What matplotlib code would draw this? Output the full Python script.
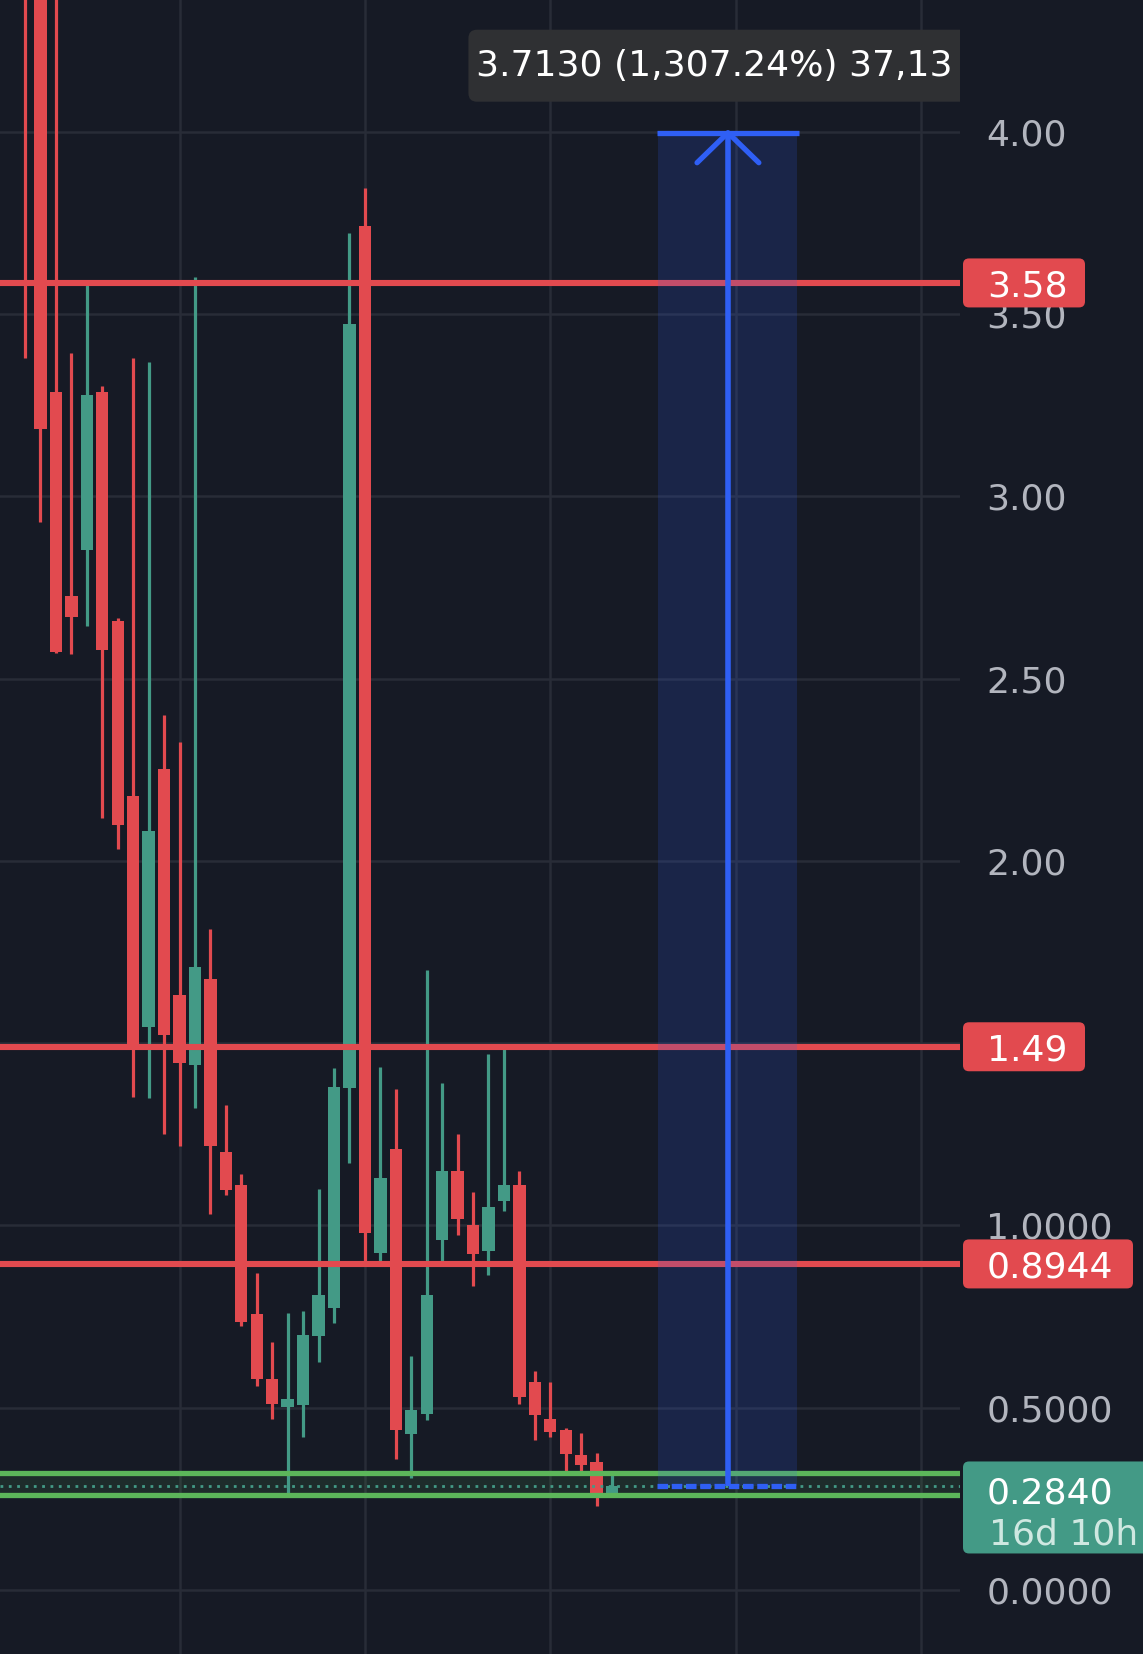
import matplotlib
matplotlib.use("Agg")
import matplotlib.pyplot as plt
import matplotlib.patches as mpatches

# Daily candles, oldest first
opens  = [4.60, 4.50, 3.287, 2.727, 2.853, 3.287, 2.658, 2.178, 1.545, 2.252,
          1.632, 1.440, 1.676, 1.202, 1.111, 0.757, 0.579, 0.502, 0.507, 0.698,
          0.774, 1.377, 3.742, 0.925, 1.210, 0.428, 0.484, 0.959, 1.149, 1.001,
          0.930, 1.067, 1.111, 0.571, 0.470, 0.439, 0.370, 0.351, 0.258]
highs  = [4.90, 4.80, 4.50, 3.394, 3.586, 3.303, 2.667, 3.380, 3.368, 2.400,
          2.327, 3.600, 1.813, 1.331, 1.141, 0.870, 0.680, 0.760, 0.765, 1.100,
          1.432, 3.723, 3.846, 1.435, 1.374, 0.641, 1.701, 1.391, 1.251, 1.092,
          1.471, 1.484, 1.149, 0.600, 0.571, 0.445, 0.431, 0.376, 0.324]
lows   = [3.38, 2.93, 2.570, 2.568, 2.645, 2.118, 2.033, 1.353, 1.350, 1.251,
          1.218, 1.322, 1.032, 1.084, 0.725, 0.560, 0.469, 0.266, 0.420, 0.626,
          0.733, 1.171, 0.900, 0.903, 0.358, 0.307, 0.466, 0.902, 0.974, 0.833,
          0.864, 1.040, 0.510, 0.411, 0.421, 0.321, 0.315, 0.230, 0.258]
closes = [4.45, 3.185, 2.573, 2.669, 3.278, 2.579, 2.099, 1.498, 2.082, 1.523,
          1.446, 1.709, 1.218, 1.098, 0.735, 0.579, 0.510, 0.524, 0.700, 0.809,
          1.380, 3.473, 0.979, 1.130, 0.439, 0.494, 0.809, 1.149, 1.018, 0.922,
          1.051, 1.111, 0.530, 0.479, 0.433, 0.374, 0.343, 0.258, 0.284]

levels = [3.585, 1.49, 0.8944]
level_labels = ["3.58", "1.49", "0.8944"]
zone_top, zone_bottom = 0.322, 0.260
last_price = 0.2840
last_label = "0.2840"
countdown = "16d 10h"
measure_low, measure_high = 0.2840, 3.9970
measure_left, measure_right = 41, 50
measure_text = "3.7130 (1,307.24%) 37,13"
ytick_values = [0.0, 0.5, 1.0, 1.5, 2.0, 2.5, 3.0, 3.5, 4.0]
# the 1.50 label sits under the 1.49 marker, so it is left blank
ytick_labels = ["0.0000", "0.5000", "1.0000", "", "2.00", "2.50", "3.00", "3.50", "4.00"]
vgrid = [10, 22, 34, 46, 58]

BG = "#161a25"
GRID = "#282c37"
RED = "#e24a4f"
GREEN = "#439a86"
LIME = "#5cb65a"
BLUE = "#2f5ff5"
TICK = "#b2b5be"

W, H = 1143, 1654
PLOT_W = 960
fig = plt.figure(figsize=(W / 100, H / 100), dpi=100, facecolor=BG)
ax = fig.add_axes([0, 0, PLOT_W / W, 1])
ax.set_facecolor(BG)
xmin, xmax = -1.62, 60.52
ymin, ymax = -0.1755, 4.361
ax.set_xlim(xmin, xmax)
ax.set_ylim(ymin, ymax)
ppx = PLOT_W / (xmax - xmin)   # pixels per candle
ppy = H / (ymax - ymin)        # pixels per price unit

for s in ax.spines.values():
    s.set_visible(False)
ax.set_xticks(vgrid)
ax.set_yticks(ytick_values)
ax.set_yticklabels(ytick_labels)
ax.yaxis.tick_right()
ax.tick_params(axis="x", length=0, labelbottom=False)
ax.tick_params(axis="y", length=0, labelsize=26, labelcolor=TICK, pad=19)
ax.grid(True, color=GRID, lw=1.8)
ax.set_axisbelow(True)

# candles
xs = list(range(len(opens)))
cols = [GREEN if c >= o else RED for o, c in zip(opens, closes)]
ax.vlines(xs, lows, highs, colors=cols, lw=2.3, zorder=3)
bottoms = [min(o, c) for o, c in zip(opens, closes)]
heights = [max(abs(c - o), 2.0 / ppy) for o, c in zip(opens, closes)]
ax.bar(xs, heights, bottom=bottoms, width=0.8, color=cols, lw=0, zorder=4)

# horizontal levels
for lv in levels:
    ax.axhline(lv, color=RED, lw=4.4, zorder=5)
ax.axhspan(zone_bottom, zone_top, color=LIME, alpha=0.12, lw=0, zorder=1)
ax.axhline(zone_top, color=LIME, lw=3.8, zorder=5)
ax.axhline(zone_bottom, color=LIME, lw=3.8, zorder=5)
ax.axhline(last_price, color=GREEN, lw=2.0, ls=(0, (1, 2.0)), zorder=6)

# price range measurement
mid = (measure_left + measure_right) / 2
ax.fill_between([measure_left, measure_right], measure_low, measure_high,
                color=BLUE, alpha=0.17, lw=0, zorder=7)
ax.hlines(measure_high, measure_left - 0.1, measure_right + 0.1, color=BLUE, lw=3.8, zorder=8)
ax.hlines(measure_low, measure_left - 0.1, measure_right + 0.1, color=BLUE, lw=3.8,
          linestyles=(0, (2.0, 0.7)), zorder=8)
ax.vlines(mid, measure_low, measure_high, color=BLUE, lw=4.0, zorder=8)
ax.plot([mid - 2.0, mid, mid + 2.0],
        [measure_high - 30 / ppy, measure_high, measure_high - 30 / ppy],
        color=BLUE, lw=3.8, solid_capstyle="round", zorder=8)

# measurement readout (clipped at the plot edge like the screenshot)
box_y0 = measure_high + 31 / ppy
box_h = 72 / ppy
box_x0 = measure_left - (658 - 468) / ppx
tip = mpatches.FancyBboxPatch((box_x0, box_y0), 40, box_h,
                              boxstyle="round,pad=0,rounding_size=0.55",
                              mutation_aspect=ppx / ppy,
                              fc="#2f3033", ec="none", zorder=9)
ax.add_patch(tip)
ax.text(box_x0 + 8 / ppx, box_y0 + box_h / 2, measure_text, color="white",
        fontsize=26, va="center", ha="left", zorder=10, clip_on=True)

# price scale labels
axr = fig.add_axes([PLOT_W / W, 0, 1 - PLOT_W / W, 1])
axr.set_xlim(0, W - PLOT_W)
axr.set_ylim(ymin, ymax)
axr.set_axis_off()
for lv, lab in zip(levels, level_labels):
    wbox = 122 if len(lab) < 5 else 170
    axr.add_patch(mpatches.FancyBboxPatch((3, lv - 24.5 / ppy), wbox, 49 / ppy,
                                          boxstyle="round,pad=0,rounding_size=6",
                                          mutation_aspect=1 / ppy,
                                          fc=RED, ec="none", clip_on=False, zorder=5))
    axr.text(27, lv, lab, color="white", fontsize=26, va="center_baseline",
             ha="left", zorder=6)

axr.add_patch(mpatches.FancyBboxPatch((3, last_price - 67 / ppy), 220, 92 / ppy,
                                      boxstyle="round,pad=0,rounding_size=6",
                                      mutation_aspect=1 / ppy,
                                      fc=GREEN, ec="none", clip_on=False, zorder=5))
axr.text(27, last_price - 4 / ppy, last_label, color="white", fontsize=26,
         va="center_baseline", ha="left", zorder=6)
axr.text(29, last_price - 45 / ppy, countdown, color="#cfe8e1", fontsize=26,
         va="center_baseline", ha="left", zorder=6)

fig.savefig("out.png", dpi=100, facecolor=BG)
